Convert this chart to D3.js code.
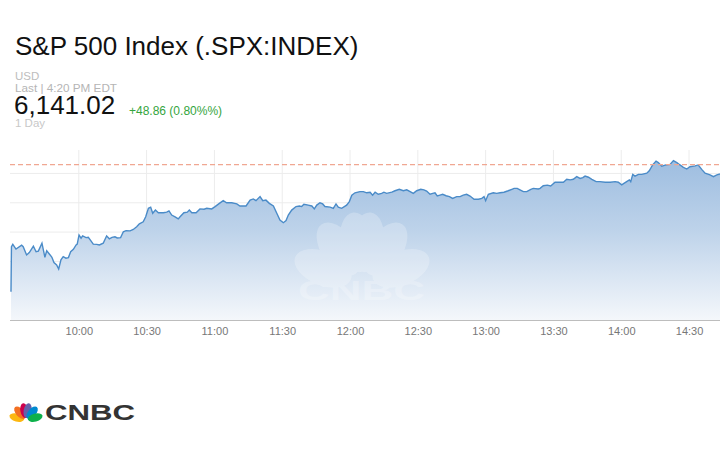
<!DOCTYPE html>
<html lang="en">
<head>
<meta charset="utf-8">
<title>S&amp;P 500 Index (.SPX:INDEX)</title>
<style>
  body { margin: 0; background: #fff; }
  svg { display: block; font-family: "Liberation Sans", Arial, sans-serif; }
  .x-axis path { stroke: #bdbdbd; }
  .x-axis text { fill: #777; font-size: 11px; }
</style>
</head>
<body>
<svg width="720" height="450"></svg>
<script src="https://d3js.org/d3.v7.min.js"></script>
<script>

// minutes after 9:30 and index level
var minutes = [
  0,0.2,0.8,2.2,4.7,5.4,6.9,8.1,9.9,11.1,12.1,13.7,15.0,15.8,17.3,18.1,19.0,20.2,21.1,22.1,
  23.1,24.3,25.4,26.4,27.6,28.8,29.3,30.1,31.0,31.7,33.2,34.2,35.3,36.4,37.9,39.1,40.8,42.3,43.5,44.7,
  46.0,47.0,48.5,49.7,50.9,52.7,54.1,55.6,56.8,58.5,59.6,60.8,61.8,62.7,63.9,65.2,67.4,68.9,69.9,71.1,
  72.6,74.0,
  74.8,76.5,78.0,78.9,80.0,81.9,83.6,85.4,86.6,88.8,90.3,92.2,93.9,95.4,97.7,99.9,101.3,104.0,105.8,107.2,
  108.4,110.2,111.4,112.8,114.3,116.1,117.6,119.0,120.5,121.7,122.7,124.2,126.1,127.6,128.6,129.6,131.5,133.1,134.2,135.3,
  136.7,137.9,138.9,141.2,142.6,143.8,144.8,146.3,148.5,149.7,150.8,152.2,154.4,
  155.9,157.4,158.9,160.0,161.1,162.5,164.0,165.0,166.2,168.5,169.9,171.8,173.6,175.1,176.6,178.0,179.5,181.3,182.7,183.9,
  185.4,186.6,187.6,188.6,189.8,191.0,192.5,194.0,195.4,197.2,198.7,200.1,201.6,203.1,204.9,206.8,208.3,209.3,210.0,211.2,
  213.4,214.9,216.4,218.1,220.0,221.6,222.6,224.0,225.2,226.7,228.2,230.0,231.1,233.3,
  234.1,235.5,237.3,238.8,240.7,242.2,244.4,245.9,247.4,248.8,250.3,251.8,253.0,254.0,255.5,257.0,258.9,260.6,262.9,265.1,
  267.3,268.7,270.2,271.2,272.4,273.6,274.2,275.1,276.1,277.6,279.1,281.3,282.4,283.9,285.4,286.4,287.9,289.8,291.6,293.1,
  294.6,296.0,297.5,299.0,300.4,302.7,304.1,305.6,307.1,309.3,310.8,312.3,313.7
];

var prices = [
  6099.6,6115.0,6115.8,6114.2,6115.5,6115.0,6112.2,6113.0,6115.2,6113.3,6113.5,6116.2,6111.4,6113.6,6112.2,6111.4,6109.6,6108.8,6107.4,6110.5,
  6111.6,6111.1,6111.3,6113.3,6114.1,6115.6,6115.9,6119.0,6117.9,6118.7,6118.1,6118.2,6117.1,6115.9,6115.8,6115.6,6116.2,6118.7,6117.7,6118.2,
  6118.4,6118.0,6118.1,6120.1,6120.5,6120.4,6120.9,6121.8,6122.8,6123.5,6125.2,6128.1,6128.5,6126.4,6127.5,6126.6,6126.6,6126.8,6127.2,6125.8,
  6125.2,6124.5,
  6125.2,6126.6,6126.8,6127.5,6126.6,6126.6,6127.9,6127.8,6128.1,6127.9,6128.7,6129.8,6130.7,6130.0,6130.0,6129.6,6128.9,6128.9,6130.9,6131.3,
  6130.7,6132.1,6130.7,6130.9,6129.8,6128.9,6126.4,6124.1,6123.2,6123.9,6125.8,6127.5,6128.7,6128.9,6128.7,6129.5,6129.2,6128.9,6127.9,6129.2,
  6130.0,6129.6,6128.7,6128.5,6128.1,6129.6,6128.5,6128.1,6129.2,6130.4,6132.6,6133.4,6133.8,
  6133.8,6133.4,6133.6,6132.6,6133.6,6132.9,6133.2,6133.6,6133.2,6133.6,6134.1,6134.6,6134.1,6134.4,6133.8,6133.2,6134.1,6134.6,6134.4,6134.0,
  6132.9,6133.2,6133.4,6132.3,6132.6,6132.9,6132.4,6132.1,6131.5,6132.1,6132.1,6132.6,6132.9,6132.3,6131.2,6131.2,6131.5,6132.1,6130.7,6132.9,
  6133.4,6133.2,6133.4,6133.6,6134.1,6134.6,6134.9,6134.9,6134.4,6133.8,6133.8,6134.6,6134.9,6134.7,
  6134.9,6135.8,6136.0,6135.7,6137.0,6137.0,6137.0,6138.0,6137.8,6138.0,6138.9,6138.3,6138.6,6139.1,6138.7,6138.0,6137.2,6137.2,6137.0,6137.0,
  6137.2,6137.0,6136.1,6136.6,6137.2,6137.8,6137.2,6139.7,6139.1,6139.7,6139.7,6140.1,6140.9,6142.9,6144.2,6143.7,6142.5,6142.9,6143.1,6144.4,
  6143.7,6142.9,6142.1,6141.5,6142.3,6142.6,6142.9,6141.4,6140.1,6139.5,6138.9,6139.5,6139.8
];

var yTicks = [6100, 6110, 6120, 6130, 6140];
var refLevel = 6143;          // dashed reference line
var yDomain = [6090, 6148];
var sessionEnd = 313.7;       // minutes after open shown at the right edge

var header = {
  title: "S&P 500 Index (.SPX:INDEX)",
  currency: "USD",
  last: "Last | 4:20 PM EDT",
  price: "6,141.02",
  change: "+48.86 (0.80%%)",
  range: "1 Day"
};

var svg = d3.select("svg");

var open = new Date(2025, 5, 26, 9, 30);
function toDate(m) { return new Date(open.getTime() + m * 60000); }

var data = minutes.map(function(m, i) { return { t: toDate(m), v: prices[i] }; });

var x = d3.scaleTime()
    .domain([open, toDate(sessionEnd)])
    .range([11, 720]);

var y = d3.scaleLinear()
    .domain(yDomain)
    .range([320, 150]);

// header text
svg.append("text").attr("x", 15).attr("y", 55)
    .style("font-size", "26px").style("fill", "#111").text(header.title);
svg.append("text").attr("x", 15).attr("y", 80)
    .style("font-size", "11.5px").style("fill", "#bdbdbd").text(header.currency);
svg.append("text").attr("x", 15).attr("y", 92)
    .style("font-size", "11.5px").style("fill", "#b5b5b5")
    .attr("textLength", 102).attr("lengthAdjust", "spacingAndGlyphs").text(header.last);
svg.append("text").attr("x", 14).attr("y", 114)
    .style("font-size", "26px").style("fill", "#111").text(header.price);
svg.append("text").attr("x", 129).attr("y", 115)
    .style("font-size", "12px").style("fill", "#35a540").text(header.change);
svg.append("text").attr("x", 15).attr("y", 127)
    .style("font-size", "11.5px").style("fill", "#c8c8c8").text(header.range);

// gradient for the area
var defs = svg.append("defs");
var grad = defs.append("linearGradient")
    .attr("id", "fillGrad")
    .attr("gradientUnits", "userSpaceOnUse")
    .attr("x1", 0).attr("y1", y(6145)).attr("x2", 0).attr("y2", y(yDomain[0]));
grad.append("stop").attr("offset", 0).attr("stop-color", "#9dbde0");
grad.append("stop").attr("offset", 0.45).attr("stop-color", "#bed3ea");
grad.append("stop").attr("offset", 1).attr("stop-color", "#f4f7fb");

// grid
var grid = svg.append("g");
grid.selectAll(".hg")
  .data(yTicks)
  .enter().append("line")
    .attr("x1", 10).attr("x2", 720)
    .attr("y1", function(d) { return y(d); })
    .attr("y2", function(d) { return y(d); })
    .attr("stroke", "#ececec");

var xTicks = x.ticks(d3.timeMinute.every(30)).filter(function(d) { return d > open; });

grid.selectAll(".vg")
  .data(xTicks)
  .enter().append("line")
    .attr("x1", function(d) { return x(d); })
    .attr("x2", function(d) { return x(d); })
    .attr("y1", 150).attr("y2", 320)
    .attr("stroke", "#ececec");

// area + line
var area = d3.area()
    .x(function(d) { return x(d.t); })
    .y0(y(yDomain[0]))
    .y1(function(d) { return y(d.v); });

var line = d3.line()
    .x(function(d) { return x(d.t); })
    .y(function(d) { return y(d.v); });

svg.append("path")
    .datum(data)
    .attr("d", area)
    .attr("fill", "url(#fillGrad)");

// watermark
var wm = svg.append("g").attr("opacity", 0.24);
var wmBase = [362, 284];
var wmAngles = [-158, -124, -97, -83, -56, -22];
wm.selectAll("ellipse")
  .data(wmAngles)
  .enter().append("ellipse")
    .attr("cx", 0).attr("cy", 0)
    .attr("rx", 30).attr("ry", 17)
    .attr("transform", function(a) {
      return "translate(" + wmBase[0] + "," + wmBase[1] + ") rotate(" + a + ") translate(42,0)";
    })
    .attr("fill", "#fff");
wm.append("text")
    .attr("x", 298).attr("y", 300)
    .attr("textLength", 127).attr("lengthAdjust", "spacingAndGlyphs")
    .style("font-size", "27px").style("font-weight", "bold").style("fill", "#fff")
    .text("CNBC");

svg.append("path")
    .datum(data)
    .attr("d", line)
    .attr("fill", "none")
    .attr("stroke", "#4a8bc8")
    .attr("stroke-width", 1.4);

// dashed reference
svg.append("line")
    .attr("x1", 10).attr("x2", 720)
    .attr("y1", y(refLevel)).attr("y2", y(refLevel))
    .attr("stroke", "#f0a792")
    .attr("stroke-width", 1.2)
    .attr("stroke-dasharray", "5,3");

// x axis
svg.append("g")
    .attr("class", "x-axis")
    .attr("transform", "translate(0,320)")
    .call(d3.axisBottom(x)
      .tickValues(xTicks)
      .tickFormat(d3.timeFormat("%H:%M"))
      .tickSize(0)
      .tickPadding(7))
    .call(function(g) { g.select(".domain").attr("d", "M10,0.5H720"); })
    .call(function(g) { g.selectAll("text").attr("font-family", null); });

// logo
var logo = svg.append("g");
var petalColors = ["#fcb711", "#f37021", "#cc004c", "#6460aa", "#0089d0", "#0db14b"];
var logoAngles = [-165, -130, -100, -80, -50, -15];
logo.selectAll("ellipse")
  .data(petalColors)
  .enter().append("ellipse")
    .attr("rx", 7.5).attr("ry", 4)
    .attr("transform", function(c, i) {
      return "translate(26,420) rotate(" + logoAngles[i] + ") translate(9.5,0)";
    })
    .attr("fill", function(c) { return c; });
logo.append("text")
    .attr("x", 45).attr("y", 420)
    .attr("textLength", 90).attr("lengthAdjust", "spacingAndGlyphs")
    .style("font-size", "22px").style("font-weight", "bold").style("fill", "#333")
    .text("CNBC");

</script>
</body>
</html>
